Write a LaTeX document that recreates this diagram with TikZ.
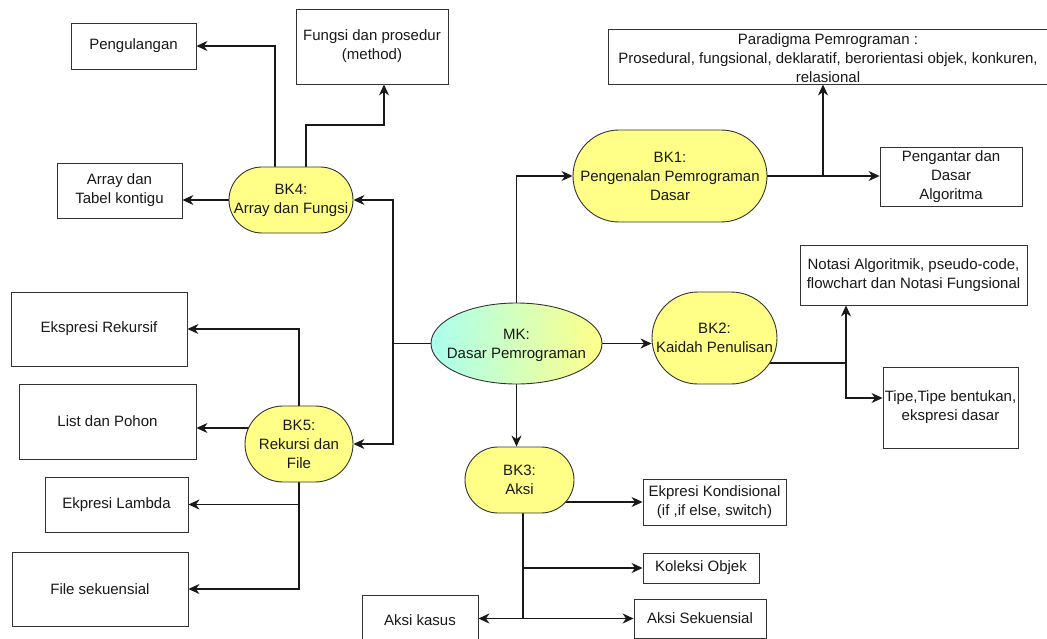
\documentclass[tikz,border=0pt]{standalone}
\usepackage{fontspec}
\setmainfont{Liberation Sans}
\usetikzlibrary{arrows.meta,shapes.geometric}
\definecolor{ink}{HTML}{333333}
\definecolor{bkfill}{HTML}{FFFF88}
\definecolor{mkleft}{HTML}{AAFFEE}
\definecolor{mkright}{HTML}{FFFF88}
\pgfdeclarelayer{edges}
\pgfsetlayers{edges,main}

\begin{document}
\begin{tikzpicture}[x=1pt,y=-1pt,
  font=\fontsize{15}{19}\selectfont,
  every node/.style={align=center, text=black!90, inner sep=1pt},
  box/.style 2 args={draw=ink, line width=0.9pt, fill=white, rectangle,
    minimum width=#1, minimum height=#2},
  bk/.style 2 args={draw=ink, line width=0.9pt, fill=bkfill, rectangle,
    rounded corners=#2/2-0.01, minimum width=#1, minimum height=#2},
  mkshape/.style={ellipse, draw=ink, line width=0.9pt, left color=mkleft,
    right color=mkright, minimum width=171, minimum height=81, inner sep=0pt},
  link/.style={draw=black!90, line width=1.1pt},
  arr/.style={link, -{Stealth[length=11pt,width=10pt,inset=3.5pt]}}
]
\useasboundingbox (0,0) rectangle (1047,639);
\clip (0,0) rectangle (1047,639);

% BK4 and its topics
\node[box={125}{46}] (peng) at (133.5,46) {Pengulangan};
\node[box={152}{75}] (fungsi) at (372,46.5) {Fungsi dan prosedur\\(method)};
\node[box={125}{55}] (array) at (119.5,190.5) {Array dan\\Tabel kontigu};
\node[bk={124}{66}] (bk4) at (291,200) {BK4:\\Array dan Fungsi};

% BK1 and its topics
\node[box={440}{55}] (parad) at (828,56.5) {};
\node (paradt) at (828,58) {Paradigma Pemrograman :\\Prosedural, fungsional, deklaratif, berorientasi objek, konkuren,\\relasional};
\node[bk={194}{92}] (bk1) at (670,176) {BK1:\\Pengenalan Pemrograman\\Dasar};
\node[box={142}{59}] (intro) at (951,176.5) {Pengantar dan\\Dasar\\Algoritma};

% BK2 and its topics
\node[box={227}{60}] (notasi) at (913.5,275) {Notasi Algoritmik, pseudo-code,\\flowchart dan Notasi Fungsional};
\node[box={135}{81}] (tipe) at (950.5,407.5) {Tipe,Tipe bentukan,\\ekspresi dasar};
\node[bk={125}{92}] (bk2) at (714.5,338) {BK2:\\Kaidah Penulisan};

% course node
\node[mkshape] (mk) at (516.5,343.5) {};
\node (mkt) at (516.5,345) {MK:\\Dasar Pemrograman};

% BK3 and its topics
\node[bk={109}{66}] (bk3) at (519.5,480) {BK3:\\Aksi};
\node[box={143}{46}] (kond) at (714.5,502) {Ekpresi Kondisional\\(if ,if else, switch)};
\node[box={116}{30}] (kol) at (701,568) {Koleksi Objek};
\node[box={132}{39}] (sek) at (700,618.5) {Aksi Sekuensial};
\node[box={116}{50}] (kasus) at (420,620) {Aksi kasus};

% BK5 and its topics
\node[box={176}{74}] (rek) at (99,329) {Ekspresi Rekursif};
\node[box={177}{75}] (list) at (107.5,421.5) {List dan Pohon};
\node[box={143}{55}] (lambda) at (116.5,504.5) {Ekpresi Lambda};
\node[box={176}{74}] (file) at (100,589) {File sekuensial};
\node[bk={108}{76}] (bk5) at (299,444) {BK5:\\Rekursi dan\\File};

\begin{pgfonlayer}{edges}
  % course to BK1, BK2, BK3
  \draw[arr] (mk.north) |- (bk1.west);
  \draw[arr] (mk.east) -- (mk.east -| bk2.west);
  \draw[arr] (mk.south) -- (mk.south |- bk3.north);
  % course to BK4, BK5
  \coordinate (j3) at (393,343.5);
  \draw[link] (mk.west) -- (j3);
  \draw[arr] (j3) |- (bk4.east);
  \draw[arr] (j3) |- (bk5.east);

  % BK1 branches
  \draw[arr] (bk1.east) -- (intro.west |- bk1.east);
  \coordinate (j1) at (823,176);
  \draw[arr] (j1) -- (j1 |- parad.south);

  % BK2 branches
  \coordinate (j2) at (846,363);
  \coordinate (j2b) at (846,398);
  \draw[link] (bk2.center |- j2) -- (j2);
  \draw[arr] (j2) -- (j2 |- notasi.south);
  \draw[arr] (j2) -- (j2b) -- (j2b -| tipe.west);

  % BK4 branches
  \draw[arr] ([xshift=-16pt]bk4.north) |- (peng.east);
  \coordinate (j4) at (384,125);
  \draw[arr] ([xshift=15pt]bk4.north) |- (j4) -- (j4 |- fungsi.south);
  \draw[arr] (bk4.west) -- (bk4.west -| array.east);

  % BK5 branches
  \draw[arr] (bk5.north) |- (rek.east);
  \coordinate (l5) at ([yshift=16pt]bk5.center);
  \draw[arr] (l5) -- (l5 -| list.east);
  \draw[arr] (bk5.south) |- (lambda.east);
  \draw[arr] (bk5.south) |- (file.east);

  % BK3 branches
  \draw[arr] (bk3.center |- kond.west) -- (kond.west);
  \coordinate (b3) at ([xshift=3.5pt]bk3.south);
  \draw[arr] (b3) |- (kol.west);
  \coordinate (j5) at (b3 |- sek.west);
  \draw[link] (b3) -- (j5);
  \draw[arr] (j5) -- (sek.west);
  \draw[arr] (j5) -- (j5 -| kasus.east);
\end{pgfonlayer}
\end{tikzpicture}
\end{document}
